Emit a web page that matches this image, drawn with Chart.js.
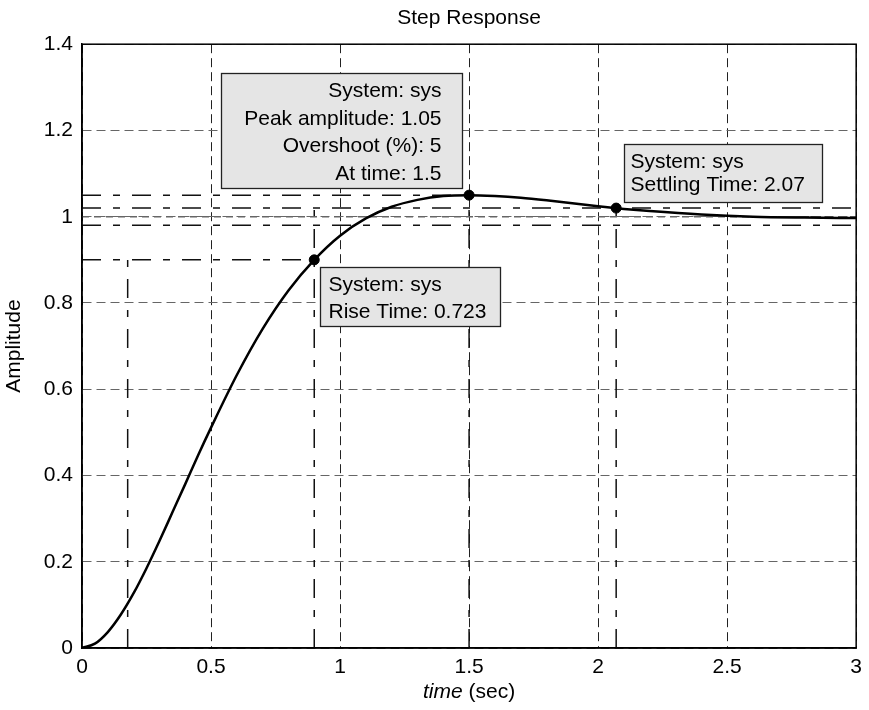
<!DOCTYPE html>
<html>
<head>
<meta charset="utf-8">
<script src="https://cdn.jsdelivr.net/npm/chart.js@4/dist/chart.umd.min.js"></script>
<style>
  html, body { margin: 0; padding: 0; background: #fff; }
  #wrap { width: 869px; height: 710px; }
</style>
</head>
<body>
<div id="wrap"><canvas id="stepChart" width="869" height="710"></canvas></div>
<script>
// step response
var timeSec = [0, 0.05, 0.1, 0.15, 0.2, 0.25, 0.3, 0.35, 0.4, 0.45, 0.5, 0.6, 0.7, 0.8, 0.9,
               1.0, 1.1, 1.2, 1.3, 1.4, 1.5, 1.6, 1.7, 1.8, 1.9, 2.0, 2.1, 2.2, 2.4, 2.6, 2.8, 3.0];
var amplitude = [0, 0.010, 0.037, 0.077, 0.127, 0.185, 0.248, 0.314, 0.380, 0.447, 0.511, 0.633, 0.740, 0.829, 0.900,
                 0.956, 0.996, 1.023, 1.039, 1.048, 1.050, 1.048, 1.044, 1.038, 1.031, 1.024, 1.018, 1.013, 1.005, 1.000, 0.998, 0.997];

// characteristic points: rise end, peak, settling
var markTime = [0.9, 1.5, 2.07];
var markAmp = [0.9, 1.05, 1.02];

var riseStart = 0.177;
var riseTop = 1.03;
var finalValue = 1;
var settleBand = [0.98, 1.02];
var tMax = 3;

var xTicks = [0, 0.5, 1, 1.5, 2, 2.5, 3];
var yTicks = [0, 0.2, 0.4, 0.6, 0.8, 1, 1.2, 1.4];

var boxLabels = [
    ['System: sys', 'Rise Time: 0.723'],
    ['System: sys', 'Peak amplitude: 1.05', 'Overshoot (%): 5', 'At time: 1.5'],
    ['System: sys', 'Settling Time: 2.07']
];

var FONT = '"Liberation Sans", Arial, Helvetica, sans-serif';
var dashDot = [19, 12, 7, 12];

function pts(xs, ys) {
    var out = [];
    for (var i = 0; i < xs.length; i++) out.push({x: xs[i], y: ys[i]});
    return out;
}

function refLine(data, dash, color) {
    return {
        data: data,
        borderColor: color || '#111',
        borderWidth: 1.5,
        borderDash: dash,
        pointRadius: 0,
        tension: 0,
        fill: false
    };
}

var frame = {
    id: 'frame',
    afterDatasetsDraw: function(chart) {
        var ctx = chart.ctx;
        var a = chart.chartArea;
        var xs = chart.scales.x, ys = chart.scales.y;

        ctx.save();
        ctx.strokeStyle = '#000';
        ctx.lineWidth = 1.5;
        ctx.setLineDash([]);
        ctx.strokeRect(a.left, a.top, a.right - a.left, a.bottom - a.top);

        // data tip boxes, placed next to their points
        var boxes = [
            {i: 0, dx: 6, dy: 7, w: 180, h: 59, align: 'left', pad: 8, rows: [18, 44.5]},
            {i: 1, dx: -248, dy: -122, w: 241, h: 115, align: 'right', pad: 21, rows: [18, 45.5, 73, 100.5]},
            {i: 2, dx: 8, dy: -64, w: 198, h: 58, align: 'left', pad: 6, rows: [18, 41]}
        ];
        ctx.font = '21px ' + FONT;
        ctx.textBaseline = 'middle';
        boxes.forEach(function(b) {
            var px = xs.getPixelForValue(markTime[b.i]);
            var py = ys.getPixelForValue(markAmp[b.i]);
            var bx = Math.round(px + b.dx) + 0.5, by = Math.round(py + b.dy) + 0.5;
            ctx.fillStyle = '#e5e5e5';
            ctx.fillRect(bx, by, b.w, b.h);
            ctx.strokeStyle = '#222';
            ctx.lineWidth = 1.3;
            ctx.strokeRect(bx, by, b.w, b.h);
            ctx.fillStyle = '#000';
            ctx.textAlign = b.align;
            var tx = b.align === 'left' ? bx + b.pad : bx + b.w - b.pad;
            boxLabels[b.i].forEach(function(s, k) {
                ctx.fillText(s, tx, by + b.rows[k]);
            });
        });

        // x axis title, "time" in italics
        var cx = (a.left + a.right) / 2;
        var ty = 692;
        ctx.font = 'italic 21px ' + FONT;
        var w1 = ctx.measureText('time').width;
        ctx.font = '21px ' + FONT;
        var w2 = ctx.measureText(' (sec)').width;
        var sx = cx - (w1 + w2) / 2;
        ctx.textAlign = 'left';
        ctx.font = 'italic 21px ' + FONT;
        ctx.fillText('time', sx, ty);
        ctx.font = '21px ' + FONT;
        ctx.fillText(' (sec)', sx + w1, ty);
        ctx.restore();
    }
};

var ctx = document.getElementById('stepChart').getContext('2d');

new Chart(ctx, {
    type: 'line',
    data: {
        datasets: [
            {
                data: pts(markTime, markAmp),
                showLine: false,
                pointRadius: 5,
                pointBackgroundColor: '#000',
                pointBorderColor: '#000'
            },
            {
                data: pts(timeSec, amplitude),
                borderColor: '#000',
                borderWidth: 2.5,
                pointRadius: 0,
                cubicInterpolationMode: 'monotone',
                fill: false
            },
            refLine(pts([0, tMax], [finalValue, finalValue]), [7, 5], '#666'),
            refLine(pts([0, markTime[1]], [markAmp[1], markAmp[1]]), dashDot),
            refLine(pts([markTime[1], markTime[1]], [0, markAmp[1]]), dashDot),
            refLine(pts([0, tMax], [settleBand[1], settleBand[1]]), dashDot),
            refLine(pts([0, tMax], [settleBand[0], settleBand[0]]), dashDot),
            refLine(pts([markTime[2], markTime[2]], [0, markAmp[2]]), dashDot),
            refLine(pts([0, markTime[0]], [markAmp[0], markAmp[0]]), dashDot),
            refLine(pts([markTime[0], markTime[0]], [0, riseTop]), dashDot),
            refLine(pts([riseStart, riseStart], [0, markAmp[0]]), dashDot)
        ]
    },
    options: {
        responsive: false,
        animation: false,
        layout: { padding: { left: 0, right: 10, top: 0, bottom: 0 } },
        plugins: {
            legend: { display: false },
            tooltip: { enabled: false },
            title: {
                display: true,
                fullSize: false,
                text: 'Step Response',
                color: '#000',
                font: { family: FONT, size: 21, weight: 'normal' },
                padding: { top: 6, bottom: 13 }
            }
        },
        scales: {
            x: {
                type: 'linear',
                min: 0,
                max: tMax,
                afterBuildTicks: function(s) { s.ticks = xTicks.map(function(v) { return {value: v}; }); },
                afterFit: function(s) { s.height = 62; },
                ticks: {
                    color: '#000',
                    font: { family: FONT, size: 21 },
                    padding: 7,
                    maxRotation: 0,
                    callback: function(v) { return String(v); }
                },
                grid: { color: '#222', lineWidth: 1, drawTicks: false },
                border: { color: '#000', width: 1.5, dash: [9, 5] }
            },
            y: {
                type: 'linear',
                min: 0,
                max: 1.4,
                afterBuildTicks: function(s) { s.ticks = yTicks.map(function(v) { return {value: v}; }); },
                afterFit: function(s) { s.width = 82; },
                ticks: {
                    color: '#000',
                    font: { family: FONT, size: 21 },
                    padding: 9,
                    callback: function(v) { return String(v); }
                },
                grid: { color: '#666', lineWidth: 1, drawTicks: false },
                border: { color: '#000', width: 1.5, dash: [9, 5] },
                title: {
                    display: true,
                    text: 'Amplitude',
                    color: '#000',
                    font: { family: FONT, size: 21 },
                    padding: { top: 2, bottom: 0 }
                }
            }
        }
    },
    plugins: [frame]
});
</script>
</body>
</html>
